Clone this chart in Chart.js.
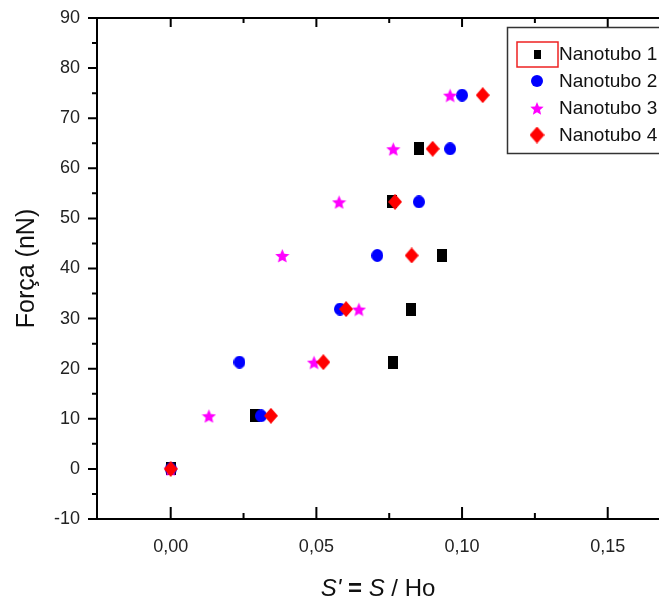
<!DOCTYPE html>
<html>
<head>
<meta charset="utf-8">
<script src="https://cdn.jsdelivr.net/npm/chart.js@4.4.1/dist/chart.umd.min.js"></script>
<style>
  body { margin: 0; background: #fff; }
</style>
</head>
<body>
<canvas id="forca" width="659" height="606"></canvas>
<script>
// values: x = S' (S / Ho), y = force in nN
const seriesNames = ['Nanotubo 1', 'Nanotubo 2', 'Nanotubo 3', 'Nanotubo 4'];
const forca = [0, 10.6, 21.3, 31.9, 42.6, 53.3, 63.9, 74.6];
const nanotubo1 = [0, 0.0289, 0.0762, 0.0824, 0.0930, 0.0761, 0.0852];
const nanotubo2 = [0, 0.0310, 0.0236, 0.0581, 0.0709, 0.0852, 0.0959, 0.1000];
const nanotubo3 = [0, 0.0131, 0.0492, 0.0646, 0.0383, 0.0578, 0.0764, 0.0959];
const nanotubo4 = [0, 0.0344, 0.0524, 0.0602, 0.0827, 0.0770, 0.0899, 0.1071];
const xTicks = [0, 0.05, 0.10, 0.15];
const yTicks = [-10, 0, 10, 20, 30, 40, 50, 60, 70, 80, 90];

const FONT = '"Liberation Sans", Arial, sans-serif';

function marker(w, h, draw) {
    const c = document.createElement('canvas');
    c.width = w;
    c.height = h;
    draw(c.getContext('2d'), w, h);
    return c;
}

function square(w, h) {
    return marker(w, h, (g) => {
        g.fillStyle = '#000';
        g.fillRect(0, 0, w, h);
    });
}

function dot(w, h) {
    return marker(w, h, (g) => {
        g.fillStyle = '#0000ff';
        g.beginPath();
        g.ellipse(w / 2, h / 2, w / 2, h / 2, 0, 0, Math.PI * 2);
        g.fill();
    });
}

function star(w, h) {
    return marker(w, h, (g) => {
        g.fillStyle = '#ff00ff';
        g.beginPath();
        const R = w / 2, r = R * 0.45;
        for (let i = 0; i < 10; i++) {
            const a = -Math.PI / 2 + i * Math.PI / 5;
            const rad = i % 2 ? r : R;
            g.lineTo(w / 2 + rad * Math.cos(a), h / 2 + 1 + rad * Math.sin(a));
        }
        g.closePath();
        g.fill();
    });
}

function diamond(w, h) {
    return marker(w, h, (g) => {
        g.fillStyle = '#ff0000';
        g.beginPath();
        g.moveTo(w / 2, 0);
        g.lineTo(w, h / 2);
        g.lineTo(w / 2, h);
        g.lineTo(0, h / 2);
        g.closePath();
        g.fill();
    });
}

const plotMarkers = [square(10, 13), dot(12, 13), star(15, 15), diamond(14, 16)];
const legendMarkers = [square(7, 9), dot(12, 12), star(14, 14), diamond(15, 17)];
const seriesData = [nanotubo1, nanotubo2, nanotubo3, nanotubo4];

function points(xs) {
    return xs.map((x, i) => ({ x: x, y: forca[i] }));
}

// first dataset is drawn on top, so the list runs from Nanotubo 4 down
const datasets = [3, 2, 1, 0].map((k) => ({
    label: seriesNames[k],
    data: points(seriesData[k]),
    pointStyle: plotMarkers[k],
    pointRadius: 7,
    pointHoverRadius: 7
}));

function noPad(s) {
    s.paddingTop = 0;
    s.paddingBottom = 0;
    s.paddingLeft = 0;
    s.paddingRight = 0;
}

const frame = {
    id: 'frame',
    afterDraw(chart) {
        const ctx = chart.ctx;
        const a = chart.chartArea;
        const xs = chart.scales.x;
        const ys = chart.scales.y;
        ctx.save();
        ctx.strokeStyle = '#000';
        ctx.lineWidth = 2;
        ctx.beginPath();
        ctx.moveTo(a.left - 9, a.top);
        ctx.lineTo(a.right, a.top);
        // y ticks, outward
        for (let v = -10; v <= 90; v += 5) {
            const y = ys.getPixelForValue(v);
            const len = v % 10 === 0 ? 9 : 5;
            ctx.moveTo(a.left - len, y);
            ctx.lineTo(a.left, y);
        }
        // x ticks, inward at bottom and top
        for (let i = 0; i <= 6; i++) {
            const v = i * 0.025;
            const x = xs.getPixelForValue(v);
            const major = i % 2 === 0;
            ctx.moveTo(x, a.bottom);
            ctx.lineTo(x, a.bottom - (major ? 12 : 6));
            ctx.moveTo(x, a.top);
            ctx.lineTo(x, a.top + (major ? 9 : 5));
        }
        ctx.stroke();

        // x axis title with italic S
        const parts = [["S'", 'italic '], [' = ', 'bold '], ['S', 'italic '], [' / Ho', '']];
        let total = 0;
        parts.forEach((p) => {
            ctx.font = p[1] + '24px ' + FONT;
            total += ctx.measureText(p[0]).width;
        });
        let x = (a.left + a.right) / 2 - total / 2;
        ctx.fillStyle = '#111';
        ctx.textBaseline = 'middle';
        parts.forEach((p) => {
            ctx.font = p[1] + '24px ' + FONT;
            ctx.fillText(p[0], x, 589);
            x += ctx.measureText(p[0]).width;
        });

        // legend inside the plot
        ctx.lineWidth = 1.5;
        ctx.strokeStyle = '#333';
        ctx.strokeRect(507.5, 27.5, 200, 126);
        ctx.font = '19px ' + FONT;
        ctx.textBaseline = 'middle';
        seriesNames.forEach((name, k) => {
            const cy = 54 + k * 27;
            const m = legendMarkers[k];
            ctx.drawImage(m, 537 - m.width / 2, cy - m.height / 2);
            ctx.fillStyle = '#111';
            ctx.fillText(name, 559, cy + 1);
        });
        ctx.strokeStyle = '#ee2222';
        ctx.strokeRect(517, 42, 41, 25);
        ctx.restore();
    }
};

new Chart(document.getElementById('forca'), {
    type: 'scatter',
    data: { datasets: datasets },
    options: {
        responsive: false,
        animation: false,
        layout: { autoPadding: false, padding: { top: 18, right: 0, left: 0, bottom: 0 } },
        scales: {
            x: {
                type: 'linear',
                min: -0.0253,
                max: 0.1676,
                afterFit: (s) => { s.height = 87; noPad(s); },
                afterBuildTicks: (s) => { s.ticks = xTicks.map((v) => ({ value: v })); },
                grid: { display: false, drawTicks: false },
                border: { display: true, color: '#000', width: 2 },
                ticks: {
                    padding: 17,
                    color: '#222',
                    font: { family: FONT, size: 18 },
                    callback: (v) => v.toFixed(2).replace('.', ',')
                }
            },
            y: {
                min: -10,
                max: 90,
                afterFit: (s) => { s.width = 97; noPad(s); },
                afterBuildTicks: (s) => { s.ticks = yTicks.map((v) => ({ value: v })); },
                grid: { display: false, drawTicks: false },
                border: { display: true, color: '#000', width: 2 },
                title: {
                    display: true,
                    text: 'Força (nN)',
                    color: '#111',
                    padding: { top: 12, bottom: 0 },
                    font: { family: FONT, size: 25 }
                },
                ticks: {
                    padding: 17,
                    color: '#222',
                    font: { family: FONT, size: 18 }
                }
            }
        },
        plugins: {
            legend: { display: false },
            tooltip: { enabled: false }
        }
    },
    plugins: [frame]
});
</script>
</body>
</html>
